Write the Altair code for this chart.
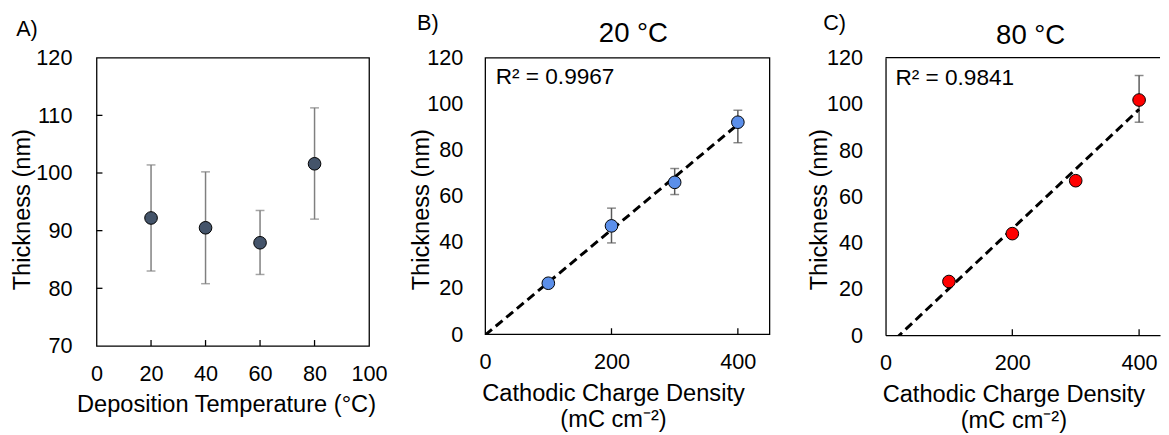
import altair as alt
import pandas as pd

FONT = "Liberation Sans"

# Panel A: thickness vs deposition temperature
temps_A = [20, 40, 60, 80]
thick_A = [92.2, 90.5, 87.9, 101.6]
low_A = [83.0, 80.8, 82.4, 92.0]
high_A = [101.4, 100.2, 93.5, 111.3]

# Panel B: 20 °C, thickness vs cathodic charge density
charge = [100, 200, 300, 400]
thick_B = [22.1, 47.0, 65.9, 92.0]
low_B = [21.0, 39.6, 60.6, 83.1]
high_B = [23.2, 54.7, 71.9, 97.2]

# Panel C: 80 °C
thick_C = [23.2, 43.9, 66.8, 101.7]
low_C = [23.2, 43.9, 66.8, 92.1]
high_C = [23.2, 43.9, 66.8, 112.3]

r2_B = "R² = 0.9967"
r2_C = "R² = 0.9841"

XT_A = "Deposition Temperature (°C)"
XT_BC = ["Cathodic Charge Density", "(mC cm⁻²)"]
YT = "Thickness (nm)"


def panel(xv, yv, lo, hi, W, H, xdom, ydom, xvals, yvals, xinner, yinner,
          color, errcolor, xtitle, xtitleX, ylabpad, ytitlepad,
          letter, letter_pos, title=None, title_pos=None, r2=None, r2_pos=None,
          trend=False, box=True):
    df = pd.DataFrame({"x": xv, "y": yv, "lo": lo, "hi": hi})
    xs = alt.Scale(domain=xdom, nice=False, zero=False)
    ys = alt.Scale(domain=ydom, nice=False, zero=False)

    x_main = alt.Axis(values=xvals, ticks=False, labelPadding=18,
                      labelFlush=False, title=xtitle,
                      titleX=xtitleX, titlePadding=9,
                      titleLineHeight=27, grid=False, domain=not box)
    y_main = alt.Axis(values=yvals, ticks=False, labelPadding=ylabpad,
                      labelFlush=False, title=YT,
                      titlePadding=ytitlepad, titleY=154,
                      grid=False, domain=not box)

    def X(f):
        return alt.X(f, type="quantitative", scale=xs, axis=x_main)

    def Y(f):
        return alt.Y(f, type="quantitative", scale=ys, axis=y_main)

    base = alt.Chart(df)
    err = base.mark_rule(color=errcolor, strokeWidth=1.5).encode(
        x=X("x"), y=Y("lo"), y2="hi:Q",
    )
    cap_lo = base.mark_tick(color=errcolor, thickness=1.5, size=9,
                            orient="horizontal").encode(x=X("x"), y=Y("lo"))
    cap_hi = base.mark_tick(color=errcolor, thickness=1.5, size=9,
                            orient="horizontal").encode(x=X("x"), y=Y("hi"))
    pts = base.mark_circle(size=165, opacity=1, color=color, stroke="black",
                           strokeWidth=1).encode(x=X("x"), y=Y("y"))
    layers = [err, cap_lo, cap_hi]

    # inner tick marks
    xt = alt.Chart(pd.DataFrame({"v": xinner})).mark_rule(
        color="black", strokeWidth=1.3
    ).encode(x=X("v"), y=alt.value(H), y2=alt.value(H - 6))
    layers.append(xt)
    if yinner:
        yt = alt.Chart(pd.DataFrame({"v": yinner})).mark_rule(
            color="black", strokeWidth=1.3
        ).encode(y=Y("v"), x=alt.value(0), x2=alt.value(6))
        layers.append(yt)

    if trend:
        line = base.transform_regression("x", "y", extent=[0, 400]).mark_line(
            color="black", strokeDash=[9, 5], strokeWidth=3, clip=True
        ).encode(x=X("x"), y=Y("y"))
        layers.append(line)
    layers.append(pts)

    def txt(s, pos, size, align="left"):
        return alt.Chart(pd.DataFrame({"t": [s]})).mark_text(
            align=align, baseline="alphabetic", font=FONT, fontSize=size,
            color="black"
        ).encode(text="t:N", x=alt.value(pos[0]), y=alt.value(pos[1]))

    layers.append(txt(letter, letter_pos, 22))
    if title:
        layers.append(txt(title, title_pos, 28, align="center"))
    if r2:
        layers.append(txt(r2, r2_pos, 23))
    if not box:
        top = alt.Chart(pd.DataFrame({"t": [0]})).mark_rule(
            color="black", strokeWidth=1.3
        ).encode(x=alt.value(0), x2=alt.value(W), y=alt.value(0))
        layers.append(top)

    ch = alt.layer(*layers).properties(width=W, height=H)
    if not box:
        ch = ch.properties(view=alt.ViewBackground(stroke=None))
    return ch


A = panel(temps_A, thick_A, low_A, high_A, W=277, H=293, xdom=[0, 100],
          ydom=[70, 120], xvals=[0, 20, 40, 60, 80, 100],
          yvals=[70, 80, 90, 100, 110, 120], xinner=[20, 40, 60, 80],
          yinner=[80, 90, 100, 110], color="#44546A", errcolor="#7F7F7F",
          xtitle=XT_A, xtitleX=131.6, ylabpad=25, ytitlepad=1.5,
          letter="A)", letter_pos=(-81.7, -22.5))

B = panel(charge, thick_B, low_B, high_B, W=289, H=281, xdom=[0, 450],
          ydom=[0, 120], xvals=[0, 200, 400],
          yvals=[0, 20, 40, 60, 80, 100, 120], xinner=[200, 400], yinner=[],
          color="#5B8FEA", errcolor="#595959",
          xtitle=XT_BC, xtitleX=130, ylabpad=22.7, ytitlepad=-6.7,
          letter="B)", letter_pos=(-69.3, -28), title="20 °C",
          title_pos=(150.7, -15.7), r2=r2_B, r2_pos=(10.7, 26.6), trend=True)

C = panel(charge, thick_C, low_C, high_C, W=279, H=282, xdom=[0, 433],
          ydom=[0, 120], xvals=[0, 200, 400],
          yvals=[0, 20, 40, 60, 80, 100, 120], xinner=[200, 400], yinner=[],
          color="#FF0000", errcolor="#595959",
          xtitle=XT_BC, xtitleX=130, ylabpad=23.4, ytitlepad=-5.1,
          letter="C)", letter_pos=(-63.4, -28), title="80 °C",
          title_pos=(147.5, -14.3), r2=r2_C, r2_pos=(10, 27.3), trend=True,
          box=False)

chart = alt.hconcat(A, B, C, spacing=118, bounds="flush").properties(
    padding={"left": 2, "top": 0, "right": 0, "bottom": 0}
).configure_view(
    stroke="black", strokeWidth=1.3
).configure_axis(
    labelFont=FONT, titleFont=FONT, labelFontSize=22, titleFontSize=24,
    labelColor="black", titleColor="black", titleFontWeight="normal",
    domainColor="black", domainWidth=1.3, tickColor="black", grid=False
)

chart.save("out.html", embed_options={"renderer": "svg", "actions": False})
